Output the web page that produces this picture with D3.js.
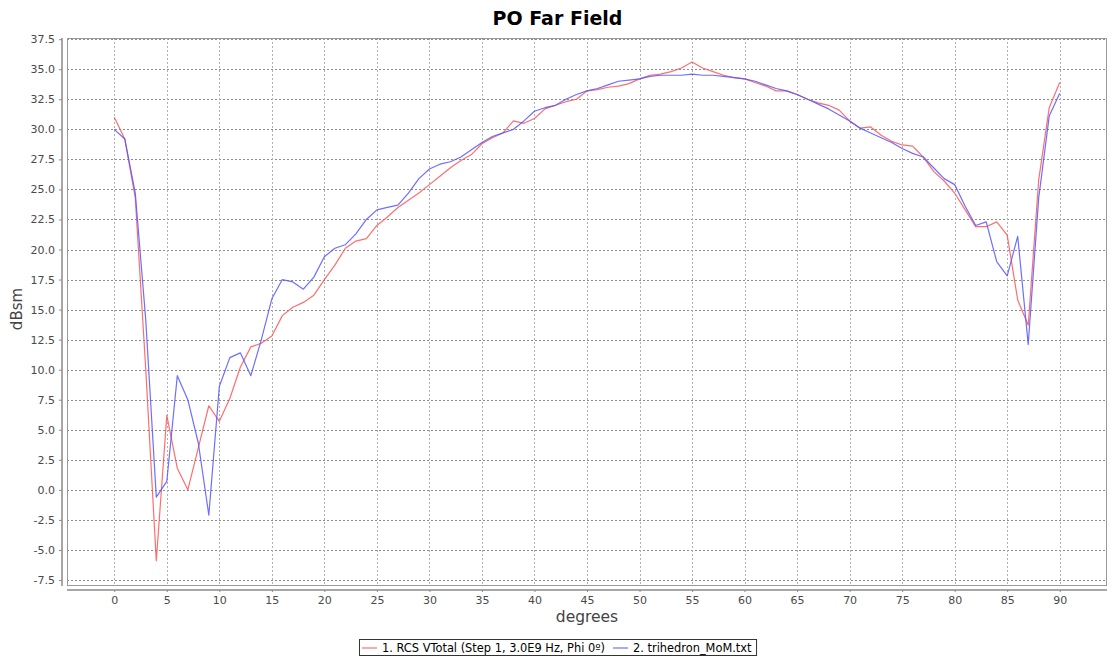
<!DOCTYPE html>
<html>
<head>
<meta charset="utf-8">
<script src="https://cdn.jsdelivr.net/npm/d3@7"></script>
<style>
  body { margin: 0; background: #fff; }
  svg { display: block; font-family: "DejaVu Sans", sans-serif; }
</style>
</head>
<body>
<div id="chart"></div>
<script>
"use strict";
let width = 1115;
let height = 657;

// plot area (JFreeChart style, axes offset 4px)
let plotLeft = 67, plotRight = 1107, plotTop = 38, plotBottom = 586;
let axisOffset = 4;

let titleText = "PO Far Field";
let xLabel = "degrees";
let yLabel = "dBsm";

let degrees = d3.range(0, 91);
let xTicks = d3.range(0, 91, 5);
let yTicks = d3.range(-7.5, 37.6, 2.5);

let seriesNames = ["1. RCS VTotal (Step 1, 3.0E9 Hz, Phi 0\u00BA)", "2. trihedron_MoM.txt"];
let seriesColors = ["#ff5555", "#5555ff"];

let rcsVTotal = [31.0, 29.2, 24.3, 10.0, -5.9, 6.2, 1.8, 0.0, 3.5, 7.0,
  5.7, 7.6, 10.2, 11.9, 12.2, 12.8, 14.5, 15.2, 15.6, 16.2,
  17.5, 18.7, 20.1, 20.7, 20.9, 22.0, 22.7, 23.5, 24.1, 24.7,
  25.4, 26.1, 26.8, 27.4, 27.9, 28.8, 29.3, 29.7, 30.7, 30.5,
  30.9, 31.7, 32.0, 32.3, 32.5, 33.2, 33.3, 33.5, 33.6, 33.8,
  34.2, 34.5, 34.6, 34.8, 35.1, 35.6, 35.1, 34.8, 34.5, 34.3,
  34.2, 33.9, 33.6, 33.2, 33.2, 32.9, 32.5, 32.2, 32.0, 31.6,
  30.7, 30.1, 30.2, 29.5, 29.0, 28.7, 28.6, 27.7, 26.5, 25.7,
  24.7, 23.3, 21.9, 21.9, 22.3, 21.2, 15.8, 13.7, 25.8, 31.8,
  33.9];

let trihedronMoM = [30.0, 29.2, 24.7, 14.1, -0.6, 0.7, 9.5, 7.5, 3.9, -2.1,
  8.6, 11.0, 11.4, 9.5, 12.5, 15.9, 17.5, 17.3, 16.7, 17.7,
  19.4, 20.1, 20.4, 21.3, 22.5, 23.3, 23.5, 23.7, 24.7, 25.9,
  26.7, 27.1, 27.3, 27.7, 28.3, 28.9, 29.4, 29.7, 30.0, 30.7,
  31.5, 31.8, 32.0, 32.5, 32.9, 33.2, 33.4, 33.7, 34.0, 34.1,
  34.2, 34.4, 34.5, 34.5, 34.5, 34.6, 34.5, 34.5, 34.4, 34.3,
  34.2, 34.0, 33.7, 33.4, 33.2, 32.9, 32.5, 32.1, 31.7, 31.2,
  30.7, 30.1, 29.7, 29.3, 28.9, 28.4, 28.0, 27.7, 26.8, 25.9,
  25.4, 23.6, 22.0, 22.3, 19.0, 17.8, 21.1, 12.1, 24.3, 31.1,
  33.0];

let allSeries = [rcsVTotal, trihedronMoM];

let xScale = d3.scaleLinear().domain([-4.5, 94.5]).range([plotLeft, plotRight]);
let yScale = d3.scaleLinear().domain([-8.0, 37.6]).range([plotBottom, plotTop]);

let svg = d3.select("#chart").append("svg")
  .attr("width", width)
  .attr("height", height);

svg.append("rect").attr("width", width).attr("height", height).attr("fill", "#fff");

// Title
svg.append("text")
  .attr("x", width / 2)
  .attr("y", 25)
  .attr("text-anchor", "middle")
  .style("font-size", "19px")
  .style("font-weight", "bold")
  .attr("fill", "#000")
  .text(titleText);

// Gridlines
svg.append("g").selectAll("line")
  .data(yTicks)
  .enter().append("line")
  .attr("x1", plotLeft).attr("x2", plotRight)
  .attr("y1", d => Math.round(yScale(d)) + 0.5)
  .attr("y2", d => Math.round(yScale(d)) + 0.5)
  .attr("stroke", "#8c8c8c")
  .attr("stroke-width", 1)
  .attr("stroke-dasharray", "2,2");

svg.append("g").selectAll("line")
  .data(xTicks)
  .enter().append("line")
  .attr("y1", plotTop).attr("y2", plotBottom)
  .attr("x1", d => Math.round(xScale(d)) + 0.5)
  .attr("x2", d => Math.round(xScale(d)) + 0.5)
  .attr("stroke", "#b0b0b0")
  .attr("stroke-width", 1)
  .attr("stroke-dasharray", "2,2");

// Plot outline
svg.append("rect")
  .attr("x", plotLeft + 0.5).attr("y", plotTop + 0.5)
  .attr("width", plotRight - plotLeft - 1).attr("height", plotBottom - plotTop - 1)
  .attr("fill", "none")
  .attr("stroke", "#9a9a9a")
  .attr("stroke-width", 1);

// Axes, offset from the plot like JFreeChart
let xAxis = d3.axisBottom(xScale).tickValues(xTicks).tickSize(2).tickPadding(4).tickFormat(d3.format("d"));
let yAxis = d3.axisLeft(yScale).tickValues(yTicks).tickSize(3).tickPadding(4).tickFormat(d => d.toFixed(1));

let gx = svg.append("g")
  .attr("transform", "translate(0," + (plotBottom + axisOffset) + ")")
  .call(xAxis);
let gy = svg.append("g")
  .attr("transform", "translate(" + (plotLeft - axisOffset - 1) + ",0)")
  .call(yAxis);

[gx, gy].forEach(function(g) {
  g.select(".domain").attr("stroke", "#8a8a8a").attr("stroke-width", 1.5);
  g.selectAll(".tick line").attr("stroke", "#8a8a8a");
  g.selectAll(".tick text")
    .attr("fill", "#4a4a4a")
    .style("font-family", "DejaVu Sans, sans-serif")
    .style("font-size", "11px");
});
gx.select(".domain").attr("d", "M" + plotLeft + ",0H" + plotRight);
gy.select(".domain").attr("d", "M0," + plotTop + "V" + plotBottom);

// Axis labels
svg.append("text")
  .attr("x", (plotLeft + plotRight) / 2)
  .attr("y", 622)
  .attr("text-anchor", "middle")
  .attr("fill", "#444")
  .style("font-size", "15.5px")
  .text(xLabel);

svg.append("text")
  .attr("transform", "translate(22," + ((plotTop + plotBottom) / 2 - 3) + ") rotate(-90)")
  .attr("text-anchor", "middle")
  .attr("fill", "#444")
  .style("font-size", "15px")
  .text(yLabel);

// Series lines
let line = d3.line()
  .x(function(d, i) { return xScale(degrees[i]); })
  .y(function(d) { return yScale(d); });

svg.append("g").selectAll("path")
  .data(allSeries)
  .enter().append("path")
  .attr("d", line)
  .attr("fill", "none")
  .attr("stroke", (d, i) => seriesColors[i])
  .attr("stroke-opacity", 0.85)
  .attr("stroke-width", 1.2)
  .attr("stroke-linejoin", "round");

// Legend
let legend = svg.append("g");
let legendBox = legend.append("rect")
  .attr("x", 359.5).attr("y", 639.5)
  .attr("height", 16)
  .attr("fill", "#fff")
  .attr("stroke", "#333")
  .attr("stroke-width", 1);

let lx = 362;
seriesNames.forEach(function(name, i) {
  legend.append("line")
    .attr("x1", lx).attr("x2", lx + 15)
    .attr("y1", 648).attr("y2", 648)
    .attr("stroke", seriesColors[i])
    .attr("stroke-opacity", 0.85)
    .attr("stroke-width", 1.2);
  let t = legend.append("text")
    .attr("x", lx + 20)
    .attr("y", 652)
    .attr("fill", "#000")
    .style("font-size", "11.4px")
    .text(name);
  lx = lx + 20 + t.node().getComputedTextLength() + 8;
});
legendBox.attr("width", lx - 3 - 359.5);
</script>
</body>
</html>
